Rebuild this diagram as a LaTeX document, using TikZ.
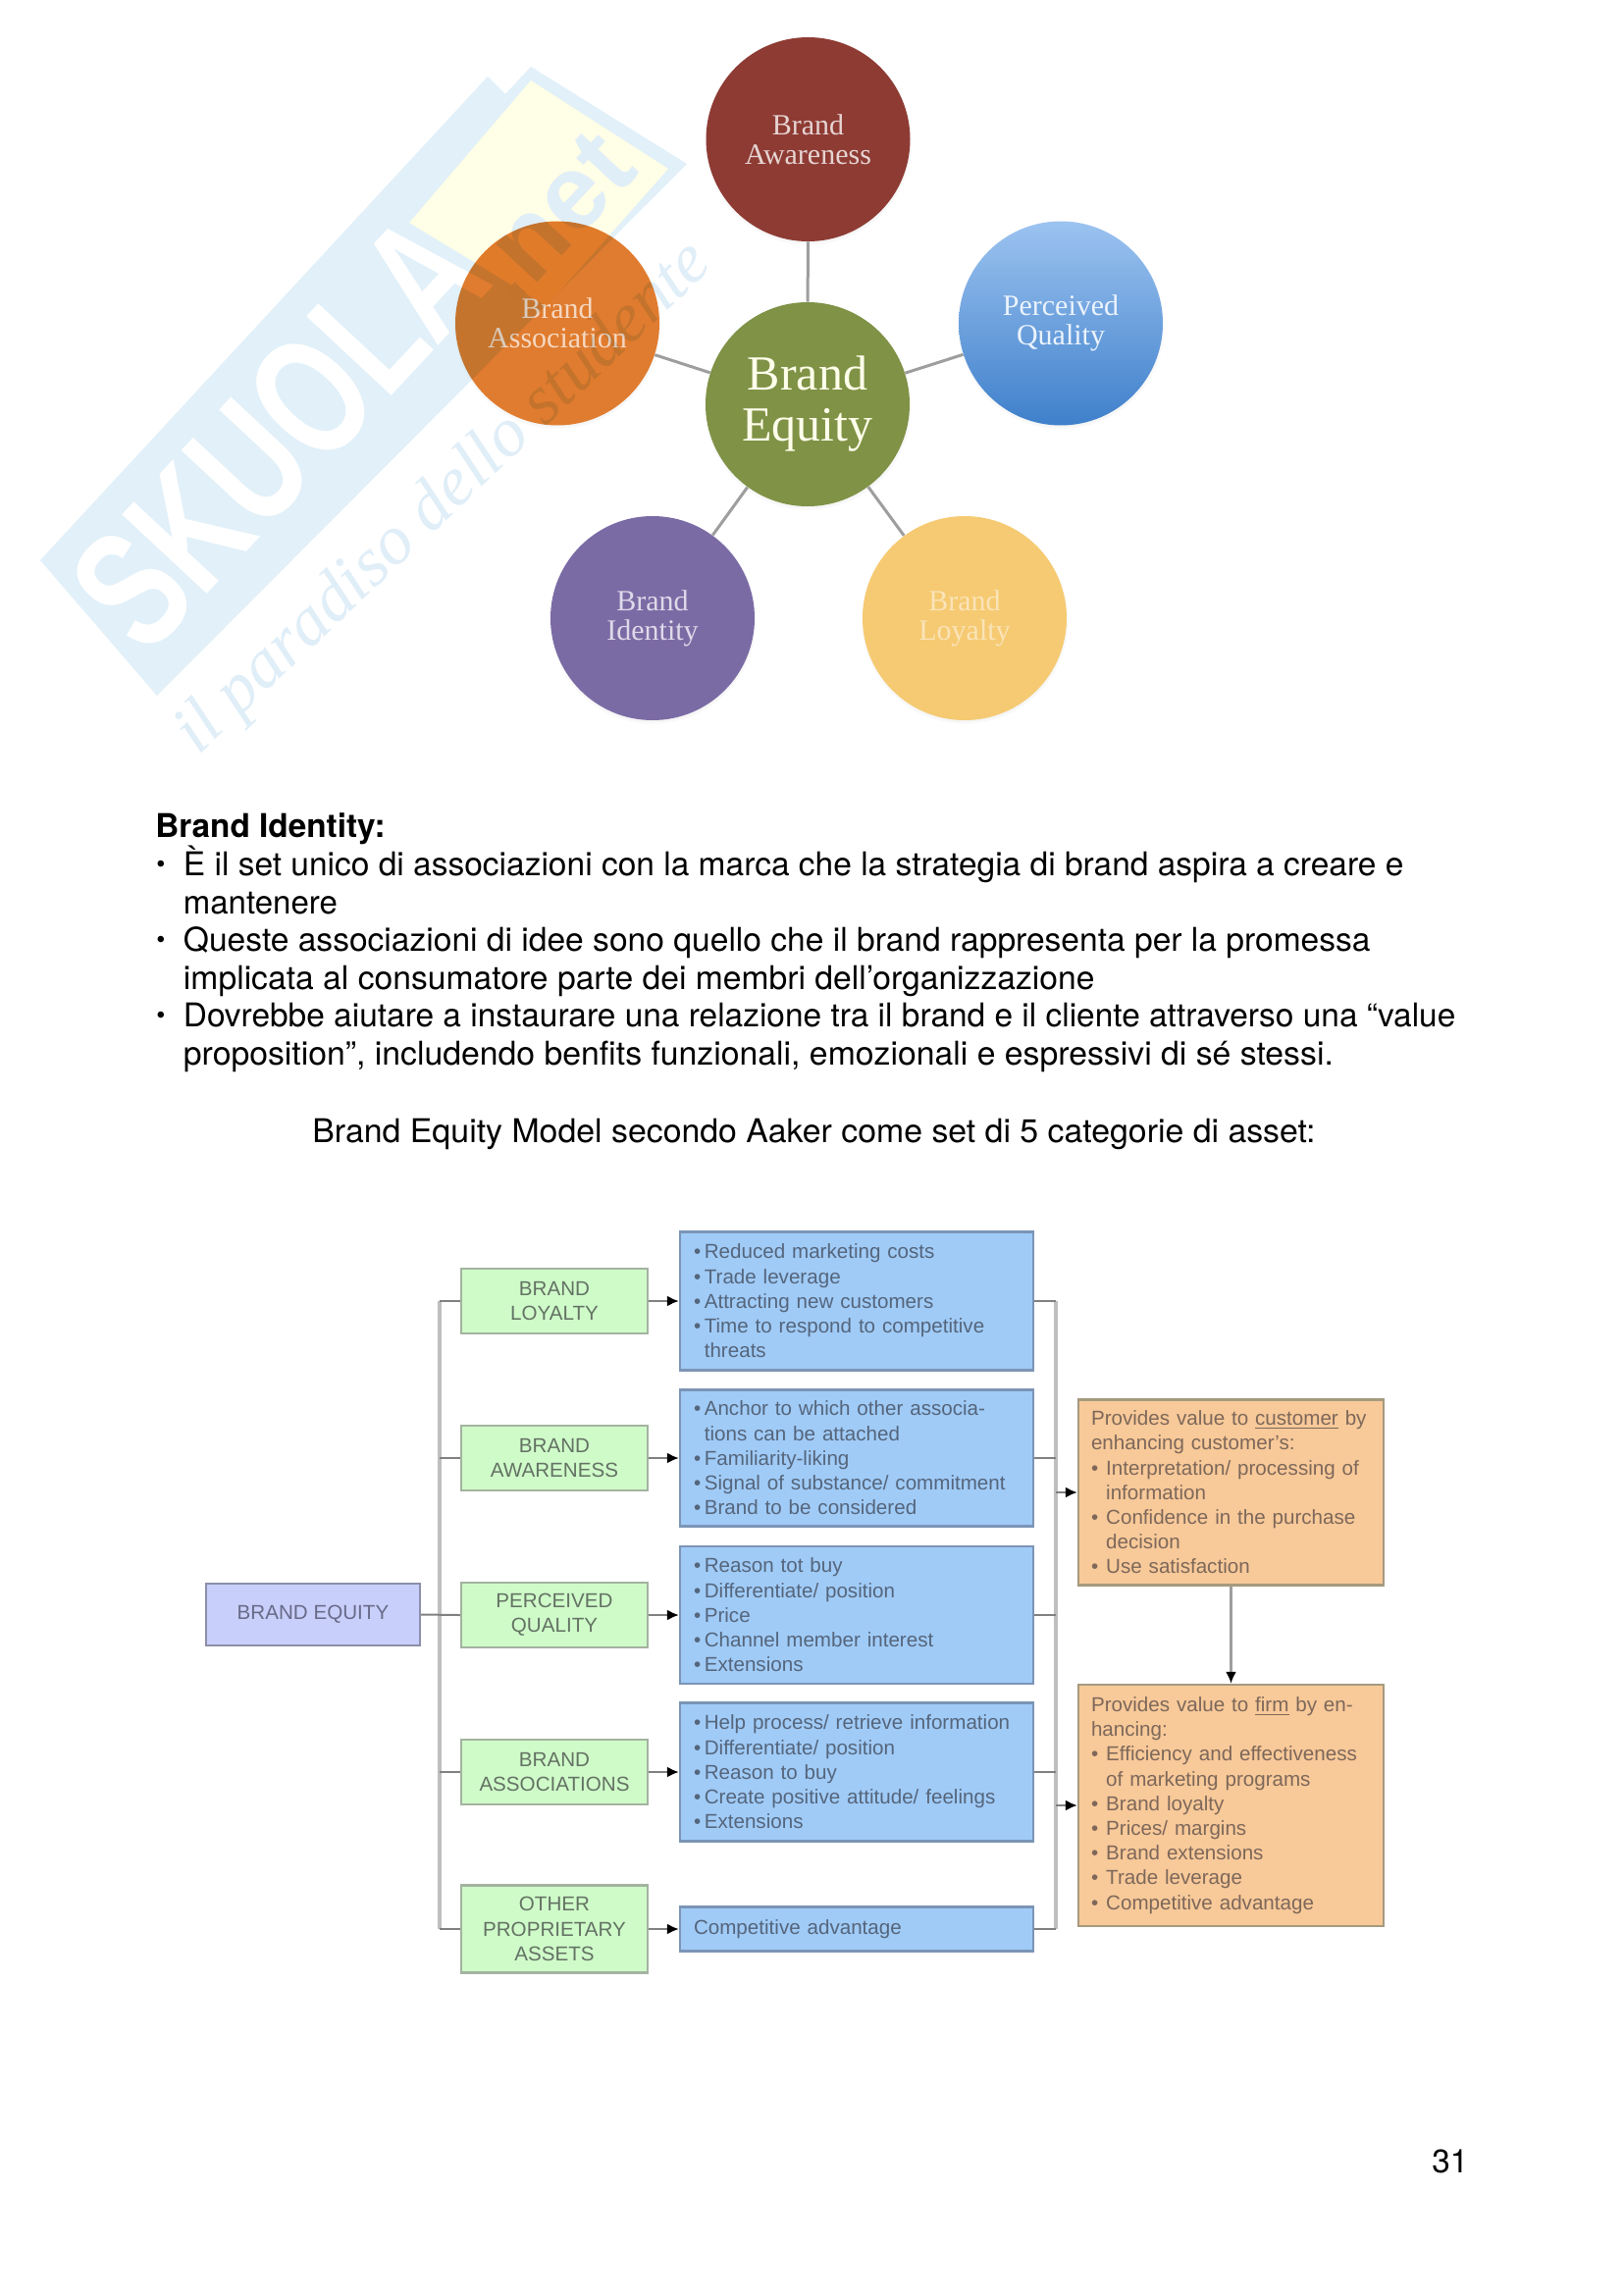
\documentclass[tikz,border=0pt]{standalone}
\usepackage{fontspec}
\usepackage{graphicx}
\setmainfont{TeX Gyre Heros}
\newfontfamily\srf{Liberation Serif}
\newfontfamily\lib{Liberation Sans}
\usetikzlibrary{arrows.meta,shadows}
\definecolor{cAw}{HTML}{8E3B34}
\definecolor{cEq}{HTML}{7F9246}
\definecolor{cPqT}{HTML}{9CC3F0}
\definecolor{cPqB}{HTML}{3F80CB}
\definecolor{cAs}{HTML}{E07C2F}
\definecolor{cId}{HTML}{7B6BA5}
\definecolor{cLo}{HTML}{F6CA72}
\definecolor{wmB}{HTML}{E1F0F9}
\definecolor{wmY}{HTML}{FFFEE6}
\definecolor{wmT}{HTML}{E0EEF8}
\definecolor{fBlue}{HTML}{A0CBF7}
\definecolor{dBlue}{HTML}{7C95B6}
\definecolor{tBlue}{HTML}{55657B}
\definecolor{fGreen}{HTML}{CFFBC9}
\definecolor{dGreen}{HTML}{A3B3A0}
\definecolor{tGreen}{HTML}{647264}
\definecolor{fLav}{HTML}{C9CFFB}
\definecolor{dLav}{HTML}{8C8FA8}
\definecolor{tLav}{HTML}{676B88}
\definecolor{fOr}{HTML}{F8C999}
\definecolor{dOr}{HTML}{A59A80}
\definecolor{tOr}{HTML}{7D685A}
\newcommand{\bul}{\makebox[5.4pt][l]{•}}
\newcommand{\hng}{\hspace*{5.4pt}}
\newcommand{\bulo}{\makebox[7.6pt][l]{•}}
\newcommand{\hngo}{\hspace*{7.6pt}}
\newcommand{\bigdot}{\raisebox{1.5pt}{\fontsize{13}{13}\selectfont •}}
\tikzset{
  disc/.style={circle,inner sep=0pt,minimum size=104pt,align=center,
    font=\srf\fontsize{15}{15}\selectfont,
    circular drop shadow={shadow xshift=0pt,shadow yshift=-1pt,shadow scale=1.02,opacity=.3}},
  spoke/.style={draw=black!38,line width=1.5pt},
  box/.style={rectangle,draw,line width=1.2pt,inner ysep=0pt,align=left,
    font=\lib\fontsize{10.3}{12.6}\selectfont},
  bluebox/.style={box,fill=fBlue,draw=dBlue,text=tBlue,inner xsep=7pt,text width=166pt},
  greenbox/.style={box,fill=fGreen,draw=dGreen,text=tGreen,align=center,minimum width=95pt},
  lavbox/.style={box,fill=fLav,draw=dLav,text=tLav,align=center,minimum width=109pt,minimum height=31.5pt},
  orbox/.style={box,fill=fOr,draw=dOr,text=tOr,inner xsep=6.5pt,text width=142.5pt},
  trunk/.style={draw=black!25,line width=2.2pt},
  branch/.style={draw=black!50,line width=1pt},
  tip/.style={-{Latex[length=6pt,width=5.5pt,color=black]}},
  body/.style={anchor=base west,inner sep=0pt,font=\fontsize{16.67}{19.5}\selectfont},
}
\begin{document}
\begin{tikzpicture}[x=0.5pt,y=-0.5pt]
\useasboundingbox (0,0) rectangle (1654,2339);
\fill[white] (0,0) rectangle (1654,2339);

% circles
\node[disc,fill=cEq,text=white!92!yellow,font=\srf\fontsize{25}{26}\selectfont] (eq) at (823,412) {Brand\\Equity};
\node[disc,fill=cAw,text=white!78!cAw] (aw) at (823.5,142) {Brand\\Awareness};
\node[disc,top color=cPqT,bottom color=cPqB,text=white!80!cPqT] (pq) at (1081,329.5) {Perceived\\Quality};
\node[disc,fill=cAs,text=white!70!cAs] (as) at (568,329.5) {Brand\\Association};
\node[disc,fill=cId,text=white!75!cId] (id) at (665,630) {Brand\\Identity};
\node[disc,fill=cLo,text=white!50!cLo] (lo) at (983,630) {Brand\\Loyalty};
\foreach \n in {aw,pq,as,id,lo} \draw[spoke] (eq) -- (\n);

% watermark
\begin{scope}[transparency group,blend mode=multiply]
  \fill[wmB] (41,571) -- (497,78) -- (515,96) -- (541,68) -- (700,167) -- (160,709) -- cycle;
  \fill[wmY] (541,82) -- (681,172) -- (557,312) -- (417,227) -- cycle;
  \node[rotate=47,text=white,inner sep=0pt,font=\lib\bfseries\fontsize{86}{86}\selectfont] (wmname) at (284,440) {\scalebox{.72}[1]{SKUOLA}};
  \node[rotate=47,text=wmT,inner sep=0pt,font=\lib\bfseries\fontsize{54}{54}\selectfont] (wmnet) at (562,222) {.net};
  \node[rotate=43.5,text=wmT,inner sep=0pt,font=\srf\itshape\fontsize{35.5}{36}\selectfont] (wmtag) at (453,509) {il paradiso dello studente};
\end{scope}

% body text
\node[body,font=\bfseries\fontsize{16.67}{19.5}\selectfont] (t0) at (158,853) {Brand Identity:};
\node[body] (b1) at (159,892) {\bigdot};
\node[body] (t1) at (186.5,892) {\scalebox{1.005}[1]{È il set unico di associazioni con la marca che la strategia di brand aspira a creare e}};
\node[body] (t2) at (186.5,931) {\scalebox{.99}[1]{mantenere}};
\node[body] (b2) at (159,969.5) {\bigdot};
\node[body] (t3) at (186.5,969.5) {\scalebox{1.007}[1]{Queste associazioni di idee sono quello che il brand rappresenta per la promessa}};
\node[body] (t4) at (186.5,1008.5) {\scalebox{1.0097}[1]{implicata al consumatore parte dei membri dell’organizzazione}};
\node[body] (b3) at (159,1046) {\bigdot};
\node[body] (t5) at (186.5,1046) {\scalebox{1.0035}[1]{Dovrebbe aiutare a instaurare una relazione tra il brand e il cliente attraverso una “value}};
\node[body] (t6) at (186.5,1085) {\scalebox{1.013}[1]{proposition”, includendo benfits funzionali, emozionali e espressivi di sé stessi.}};
\node[body] (t7) at (318,1164) {\scalebox{1.015}[1]{Brand Equity Model secondo Aaker come set di 5 categorie di asset:}};
\node[body] (pg) at (1459,2214) {31};

% model boxes
\node[lavbox] (be) at (319,1645.5) {\raisebox{-1.5pt}{BRAND EQUITY}};
\node[greenbox,minimum height=33pt] (g1) at (565,1326) {BRAND\\LOYALTY};
\node[greenbox,minimum height=33pt] (g2) at (565,1486) {BRAND\\AWARENESS};
\node[greenbox,minimum height=33pt] (g3) at (565,1646) {PERCEIVED\\QUALITY};
\node[greenbox,minimum height=33pt] (g4) at (565,1806) {BRAND\\ASSOCIATIONS};
\node[greenbox,minimum height=44.5pt] (g5) at (565,1966) {OTHER\\PROPRIETARY\\ASSETS};

\node[bluebox,minimum height=70.5pt] (b_1) at (873,1326) {\bul Reduced marketing costs\\\bul Trade leverage\\\bul Attracting new customers\\\bul Time to respond to competitive\\\hng threats};
\node[bluebox,minimum height=69.5pt] (b_2) at (873,1486) {\bul Anchor to which other associa-\\\hng tions can be attached\\\bul Familiarity-liking\\\bul Signal of  substance/ commitment\\\bul Brand to be considered};
\node[bluebox,minimum height=70pt] (b_3) at (873,1646) {\bul Reason tot buy\\\bul Differentiate/ position\\\bul Price\\\bul Channel member interest\\\bul Extensions};
\node[bluebox,minimum height=70.5pt] (b_4) at (873,1806) {\bul Help process/ retrieve information\\\bul Differentiate/ position\\\bul Reason to buy\\\bul Create positive attitude/ feelings\\\bul Extensions};
\node[bluebox,minimum height=22.5pt] (b_5) at (873,1966) {Competitive advantage};

\node[orbox,minimum height=94.5pt] (o1) at (1254.5,1521) {Provides value to \underline{customer} by\\enhancing customer’s:\\\bulo Interpretation/ processing of\\\hngo information\\\bulo Confidence in the purchase\\\hngo decision\\\bulo Use satisfaction};
\node[orbox,minimum height=123pt] (o2) at (1254.5,1840) {Provides value to \underline{firm} by en-\\hancing:\\\bulo Efficiency and effectiveness\\\hngo of marketing programs\\\bulo Brand loyalty\\\bulo Prices/ margins\\\bulo Brand extensions\\\bulo Trade leverage\\\bulo Competitive advantage};

% connectors
\coordinate (lt) at (448,1326);
\coordinate (rt) at (1076,1326);
\draw[trunk] (g1.west -| lt) -- (g5.west -| lt);
\draw[trunk] (b_1.east -| rt) -- (b_5.east -| rt);
\draw[branch] (be.east) -- (g3.west);
\foreach \n in {g1,g2,g4,g5} \draw[branch] (\n.west -| lt) -- (\n.west);
\foreach \i in {1,...,5} {
  \draw[branch,tip] (g\i.east) -- (b_\i.west);
  \draw[branch] (b_\i.east) -- (b_\i.east -| rt);
}
\draw[branch,tip] (o1.west -| rt) -- (o1.west);
\draw[branch,tip] (o2.west -| rt) -- (o2.west);
\draw[draw=black!38,line width=1.8pt,tip] (o1.south) -- (o2.north);
\end{tikzpicture}
\end{document}
